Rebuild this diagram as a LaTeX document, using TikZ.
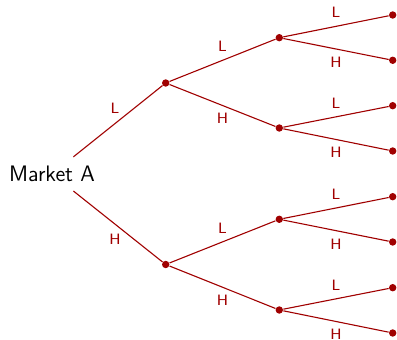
\documentclass[tikz,border=0pt]{standalone}
\begin{document}
\begin{tikzpicture}[x=0.5pt,y=-0.5pt,
  every node/.style={font=\sffamily},
  dot/.style={circle,fill=dred,inner sep=0pt,minimum size=3.7pt},
  br/.style={draw=dred,line width=0.55pt},
  lab/.style={text=dred,font=\sffamily\fontsize{7.5}{9}\selectfont,inner sep=0pt}]
\definecolor{dred}{RGB}{160,0,0}
\useasboundingbox (0,0) rectangle (397,340);
\node[circle,inner sep=0pt,minimum size=27pt,
  label={[font=\sffamily\fontsize{11.2}{13}\selectfont,inner sep=0pt]center:Market A}] (root) at (52,174) {};
\node[dot] (a) at (165.7,83) {};
\node[dot] (b) at (165.7,264.5) {};
\node[dot] (aa) at (279.3,37.7) {};
\node[dot] (ab) at (279.3,128) {};
\node[dot] (ba) at (279.3,219.3) {};
\node[dot] (bb) at (279.3,310) {};
\foreach \n/\y in {aaa/15,aab/60.3,aba/105.7,abb/151,baa/196.7,bab/242,bba/287.7,bbb/333}
  \node[dot] (\n) at (392.7,\y) {};
\draw[br] (root) -- node[lab,midway,xshift=-1.5pt,yshift=6.5pt] {L} (a);
\draw[br] (root) -- node[lab,midway,xshift=-1.5pt,yshift=-6.5pt] {H} (b);
\foreach \p/\c/\d in {a/aa/ab,b/ba/bb,aa/aaa/aab,ab/aba/abb,ba/baa/bab,bb/bba/bbb}{
  \draw[br] (\p) -- node[lab,midway,yshift=7pt] {L} (\c);
  \draw[br] (\p) -- node[lab,midway,yshift=-6.6pt] {H} (\d);
}
\end{tikzpicture}
\end{document}
